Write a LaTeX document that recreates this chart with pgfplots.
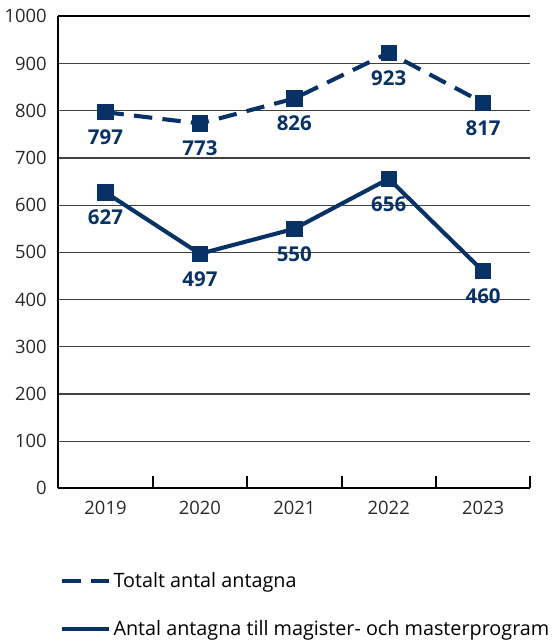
\documentclass[border=0pt]{standalone}
\usepackage{pgfplots}
\pgfplotsset{compat=1.18}
\usepackage{fontspec}
\setmainfont{Open Sans}
\definecolor{navy}{RGB}{8,50,102}
\definecolor{txt}{RGB}{40,40,40}
\begin{document}
\begin{tikzpicture}
\begin{axis}[
  scale only axis,
  width=346pt, height=346pt,
  xmin=-0.5, xmax=4.5, ymin=0, ymax=1000,
  axis lines=left,
  axis line style={-, line width=1.5pt, black},
  xtick={0,1,2,3,4},
  xticklabels={2019,2020,2021,2022,2023},
  minor xtick={-0.5,0.5,1.5,2.5,3.5,4.5},
  major tick length=0pt,
  minor tick length=9pt,
  xtick align=inside,
  minor tick style={line width=1.5pt, black},
  ytick={0,100,...,1000},
  ymajorgrids,
  major grid style={line width=0.8pt, black!75},
  tick label style={font=\fontsize{13.5}{15}\selectfont, text=txt},
  /pgf/number format/assume math mode=true,
  /pgf/number format/1000 sep={},
  xticklabel style={yshift=-6pt},
  yticklabel style={xshift=-5pt},
  clip=false,
  legend cell align=left,
  legend style={draw=none, at={(-0.005,-0.165)}, anchor=north west,
    font=\fontsize{14.5}{16}\selectfont, text=black, row sep=19pt,
    /tikz/every even column/.append style={column sep=4pt}},
  legend image code/.code={\draw[#1] (0pt,0pt) -- (34pt,0pt);},
  nodes near coords,
  every node near coord/.append style={font=\fontsize{15}{17}\selectfont\bfseries, text=navy, anchor=north, yshift=-8pt},
]
\addplot[navy, line width=3pt, dash pattern=on 13.5pt off 7.5pt, mark=square*, mark size=4.5pt, mark options={solid}]
  coordinates {(0,797) (1,773) (2,826) (3,923) (4,817)};
\addlegendentry{Totalt antal antagna}
\addplot[navy, line width=3pt, mark=square*, mark size=4.5pt]
  coordinates {(0,627) (1,497) (2,550) (3,656) (4,460)};
\addlegendentry{Antal antagna till magister- och masterprogram}
\draw[line width=1.5pt, black] (axis cs:-0.5,1000) -- (axis cs:4.5,1000);
\path (rel axis cs:0,1) ++(0,12pt);
\end{axis}
\end{tikzpicture}
\end{document}
